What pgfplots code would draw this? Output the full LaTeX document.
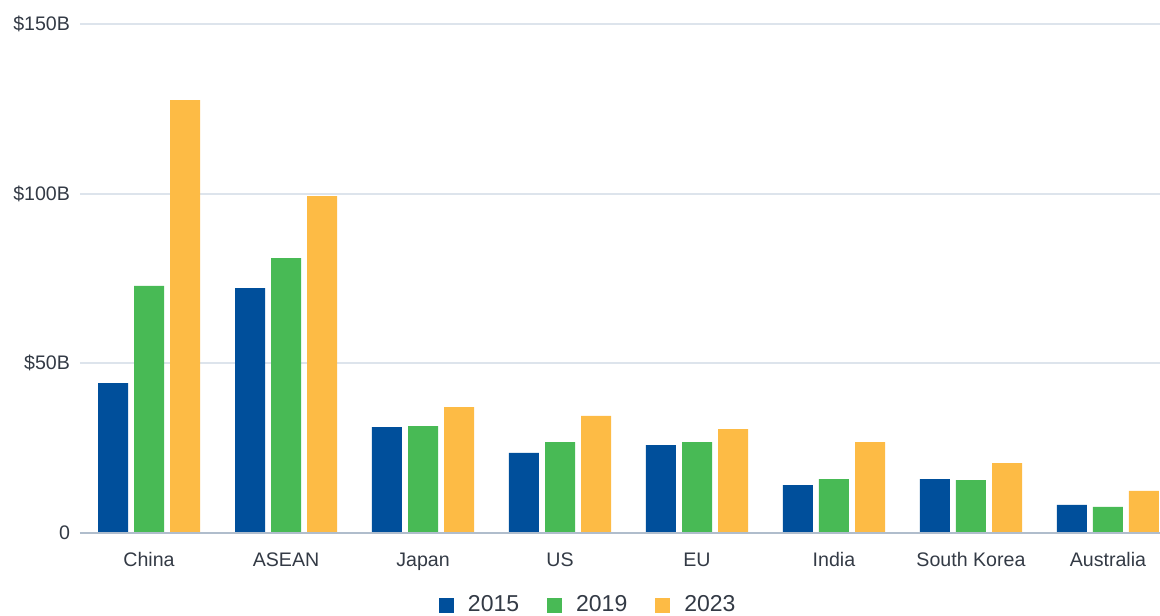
\documentclass[border=0pt]{standalone}
\usepackage{pgfplots}
\pgfplotsset{compat=1.18}
\usepackage{fontspec}
\setmainfont{Liberation Sans}
\definecolor{cA}{RGB}{0,79,155}
\definecolor{cB}{RGB}{72,186,85}
\definecolor{cC}{RGB}{253,187,69}
\definecolor{gridc}{RGB}{221,228,236}
\definecolor{basec}{RGB}{176,189,204}
\definecolor{txt}{RGB}{51,58,69}
\begin{document}
\begin{tikzpicture}
\useasboundingbox (-40pt,-41pt) rectangle (540pt,266.5pt);
\begin{axis}[
  scale only axis,
  width=540pt, height=254.5pt,
  xmin=-0.504, xmax=7.38,
  ymin=0, ymax=150,
  axis line style={draw=none},
  xtick pos=bottom, ytick pos=left,
  ytick={0,50,100,150},
  yticklabels={0,\$50B,\$100B,\$150B},
  ymajorgrids,
  grid style={gridc, line width=0.9pt},
  major tick length=0pt,
  xtick={0,...,7},
  xticklabels={China,ASEAN,Japan,US,EU,India,South Korea,Australia},
  tick label style={font=\fontsize{9.8}{11}\selectfont, text=txt},
  yticklabel style={xshift=-1.5pt},
  xticklabel style={yshift=-6pt, text height=0.72em, text depth=0.22em},
  ybar, bar width=0.219,
  every axis plot/.append style={draw=none},
  legend style={draw=none, at={(0.4715,-0.1415)}, anchor=center, legend columns=-1,
     font=\fontsize{11.5}{13}\selectfont, text=txt,
     nodes={text height=0.72em, text depth=0.1em},
     /tikz/every odd column/.append style={column sep=5pt},
     /tikz/every even column/.append style={column sep=12pt}},
  legend image code/.code={\fill (0pt,-3.75pt) rectangle (7.5pt,3.75pt);},
  clip=false,
]
\addplot[fill=cA, bar shift=-0.263] coordinates {(0,44.2) (1,72.2) (2,31.2) (3,23.6) (4,25.9) (5,14.1) (6,15.9) (7,8.3)};
\addplot[fill=cB, bar shift=0] coordinates {(0,72.8) (1,81.0) (2,31.5) (3,26.8) (4,26.8) (5,15.9) (6,15.6) (7,7.7)};
\addplot[fill=cC, bar shift=0.263] coordinates {(0,127.6) (1,99.3) (2,37.1) (3,34.5) (4,30.6) (5,26.8) (6,20.6) (7,12.4)};
\legend{2015,2019,2023}
\draw[basec, line width=1pt] (rel axis cs:0,0) -- (rel axis cs:1,0);
\end{axis}
\end{tikzpicture}
\end{document}
